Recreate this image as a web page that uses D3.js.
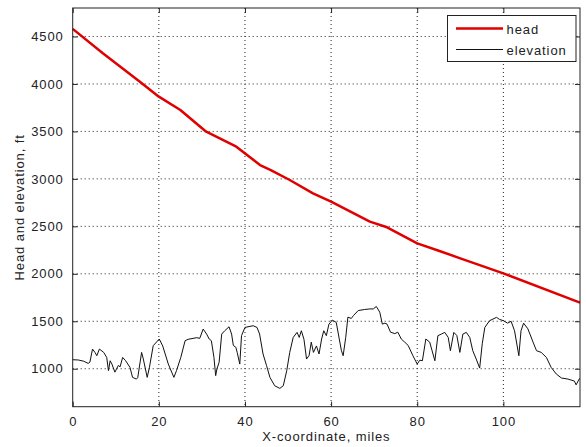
<!DOCTYPE html>
<html><head><meta charset="utf-8">
<script src="https://cdn.jsdelivr.net/npm/d3@7/dist/d3.min.js"></script>
<style>
body{margin:0;background:#fff;}
svg text{font-family:"Liberation Sans",Arial,Helvetica,sans-serif;font-size:13px;fill:#222;letter-spacing:0.9px;}
</style></head>
<body><svg id="c" width="586" height="447"></svg>
<script>
const xTicks=[0,20,40,60,80,100];
const yTicks=[1000,1500,2000,2500,3000,3500,4000,4500];
const seriesNames=["head","elevation"];
const headX=[0,7,15.6,20,25,31,38,43.5,46,50.4,55.8,60,69,73,80,85,90,100,117.8];
const headY=[4580,4323,4024,3866,3726,3497,3339,3146,3093,2988,2848,2760,2549,2490,2321,2243,2163,2005,1696];
const elevX=[0,1.3,2.5,3.6,4.0,4.6,5.2,5.6,6.2,7.2,7.9,8.3,8.7,9.1,9.8,10.6,11,11.6,12.3,13.3,13.9,14.8,15.1,16.0,16.4,17.3,17.8,18.7,20.1,20.9,22.2,23.5,24.1,25.1,26.1,26.8,28.8,29.5,30.3,31.1,31.7,32.2,32.8,33.2,33.5,34.0,34.6,35.3,36.3,36.9,37.3,37.9,38.2,38.8,39.2,40.0,41.9,42.8,43.4,44.2,45.0,45.8,46.9,48.1,48.9,49.7,50.4,51.2,52.1,52.6,53.1,53.7,54.3,54.9,55.4,55.9,56.6,57.2,57.8,58.3,58.9,59.5,60.3,61.2,61.9,62.4,62.8,63.4,63.9,64.7,65.2,66.3,67.8,69.0,69.8,70.5,71.3,71.9,72.5,73.0,73.8,74.8,75.5,76.3,77.1,77.9,79.0,80.0,80.6,81.2,82.0,82.9,84.1,84.8,85.6,86.4,87.2,87.7,88.5,89.2,89.9,90.6,91.4,92.2,92.9,93.7,94.5,95.1,95.7,96.8,98.4,99.1,100,101,101.8,102.6,103.6,104.1,104.7,105.7,106.9,107.7,108.8,110.0,111.1,112.3,113.5,115.0,116.5,116.9,117.6,117.8];
const elevY=[1095,1092,1080,1056,1070,1207,1170,1137,1207,1172,1119,980,1084,1050,964,1035,1020,1119,1084,1014,909,891,905,1172,1102,909,1010,1243,1313,1240,1049,909,980,1119,1295,1310,1327,1320,1418,1365,1313,1295,1119,927,1000,1067,1365,1400,1442,1365,1245,1225,1170,1049,1348,1435,1453,1435,1365,1155,1035,909,821,793,821,979,1172,1330,1383,1330,1400,1310,1102,1140,1280,1172,1240,1155,1313,1400,1348,1470,1512,1488,1313,1190,1137,1330,1543,1530,1560,1613,1624,1630,1630,1656,1596,1470,1480,1470,1385,1370,1385,1313,1280,1245,1137,1049,1090,1084,1313,1280,1084,1348,1365,1383,1330,1190,1383,1350,1172,1365,1383,1330,1190,1102,1007,1263,1435,1506,1541,1520,1506,1480,1500,1400,1137,1400,1480,1420,1280,1190,1172,1119,1014,944,902,891,870,830,891,900];

const svg=d3.select("#c");
const L=72.7,R=580,T=8,B=406.7;
const x=d3.scaleLinear().domain([0,117.8]).range([L,R]);
const y=d3.scaleLinear().domain([600,4800]).range([B,T]);
const fmt=d3.format("d");

// grid
const g=svg.append("g");
g.selectAll("line.gx").data(xTicks.filter(d=>d>0)).enter().append("line")
 .attr("x1",d=>x(d)).attr("x2",d=>x(d)).attr("y1",T).attr("y2",B)
 .attr("stroke","#222").attr("stroke-width",1).attr("stroke-dasharray","1,3");
g.selectAll("line.gy").data(yTicks).enter().append("line")
 .attr("y1",d=>y(d)).attr("y2",d=>y(d)).attr("x1",L).attr("x2",R)
 .attr("stroke","#222").attr("stroke-width",1).attr("stroke-dasharray","1,3");

// axes
svg.append("g").attr("transform",`translate(0,${B})`)
 .call(d3.axisBottom(x).tickValues(xTicks).tickFormat(fmt).tickSizeInner(-5).tickSizeOuter(0).tickPadding(10))
 .call(s=>s.select(".domain").remove());
svg.append("g").attr("transform",`translate(0,${T})`)
 .call(d3.axisTop(x).tickValues(xTicks).tickSizeInner(-5).tickSizeOuter(0).tickFormat(""))
 .call(s=>s.select(".domain").remove());
svg.append("g").attr("transform",`translate(${L},0)`)
 .call(d3.axisLeft(y).tickValues(yTicks).tickFormat(fmt).tickSizeInner(-5).tickSizeOuter(0).tickPadding(9))
 .call(s=>s.select(".domain").remove());
svg.append("g").attr("transform",`translate(${R},0)`)
 .call(d3.axisRight(y).tickValues(yTicks).tickSizeInner(-5).tickSizeOuter(0).tickFormat(""))
 .call(s=>s.select(".domain").remove());
svg.selectAll(".tick line").attr("stroke","#222");
svg.selectAll("g").attr("font-family",null).attr("font-size",null);

const line=d3.line().x(d=>x(d[0])).y(d=>y(d[1]));
const headData=headX.map((v,i)=>[v,headY[i]]);
const elevData=elevX.map((v,i)=>[v,elevY[i]]);
svg.append("path").datum(elevData).attr("d",line).attr("fill","none").attr("stroke","#111").attr("stroke-width",1);
svg.append("path").datum(headData).attr("d",line).attr("fill","none").attr("stroke","#e00000").attr("stroke-width",2.5).attr("stroke-linejoin","round");

// box
svg.append("rect").attr("x",L).attr("y",T).attr("width",R-L).attr("height",B-T).attr("fill","none").attr("stroke","#222").attr("stroke-width",1);

// legend
const lg=svg.append("g");
lg.append("rect").attr("x",447.5).attr("y",15.5).attr("width",128.5).attr("height",46).attr("fill","#fff").attr("stroke","#222");
const colors=["#e00000","#111"],widths=[2.5,1];
seriesNames.forEach((n,i)=>{
  const yy=28.5+i*21;
  lg.append("line").attr("x1",456).attr("x2",503).attr("y1",yy).attr("y2",yy).attr("stroke",colors[i]).attr("stroke-width",widths[i]);
  lg.append("text").attr("x",506.5).attr("y",yy+5).text(n);
});

svg.append("text").attr("x",(L+R)/2).attr("y",441).attr("text-anchor","middle").text("X-coordinate, miles");
svg.append("text").attr("transform",`translate(24,${(T+B)/2}) rotate(-90)`).attr("text-anchor","middle").text("Head and elevation, ft");
</script></body></html>
